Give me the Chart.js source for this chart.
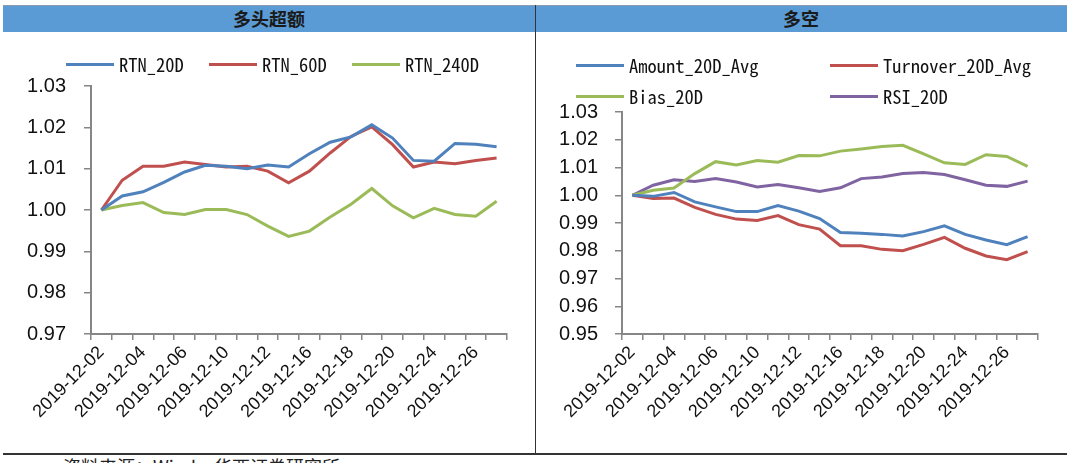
<!DOCTYPE html>
<html>
<head>
<meta charset="utf-8">
<script src="https://cdn.jsdelivr.net/npm/chart.js@4.4.1/dist/chart.umd.min.js"></script>
<style>
  html,body{margin:0;padding:0;background:#fff;overflow:hidden;width:1080px;height:463px}
  #page{position:relative;width:1080px;height:463px;overflow:hidden}
  .abs{position:absolute}
  .band{left:3px;top:5px;width:1064px;height:27px;background:#5b9bd5;border-top:1px solid #8c9bb0;box-sizing:border-box}
  .title{top:5px;height:27px;line-height:27px;text-align:center;font:bold 18px "Noto Sans CJK SC",sans-serif;color:#1a1a1a}
  .vsep{left:535px;top:5px;width:1px;height:449px;background:#333}
  .hline{left:3px;top:453px;width:1064px;height:2px;background:#333}
  .src{left:63px;top:457px;font:18px/18px "Noto Sans CJK SC",sans-serif;color:#222;white-space:nowrap}
  canvas{position:absolute}
  .lg{position:absolute;height:20px;white-space:pre;font:18.5px "Noto Sans Mono CJK SC","DejaVu Sans Mono",monospace;color:#111}
  .lg i{position:absolute;left:0;top:9px;width:48px;height:3px}
  .lg span{position:absolute;left:53px;top:-1px;line-height:22px}
</style>
</head>
<body>
<div id="page">
  <div class="abs band"></div>
  <div class="abs title" style="left:3px;width:532px">多头超额</div>
  <div class="abs title" style="left:535px;width:532px">多空</div>
  <canvas id="cLong" width="530" height="419" style="left:3px;top:33px;width:530px;height:419px"></canvas>
  <canvas id="cLS" width="530" height="419" style="left:537px;top:33px;width:530px;height:419px"></canvas>
  <div class="abs vsep"></div>
  <div class="abs hline"></div>
  <div class="abs src">资料来源：Wind，华西证券研究所</div>
</div>
<script>
// 交易日（2019年12月）
const dates = ['2019-12-02','2019-12-03','2019-12-04','2019-12-05','2019-12-06',
  '2019-12-09','2019-12-10','2019-12-11','2019-12-12','2019-12-13',
  '2019-12-16','2019-12-17','2019-12-18','2019-12-19','2019-12-20',
  '2019-12-23','2019-12-24','2019-12-25','2019-12-26','2019-12-27'];

// 多头超额
const rtn20  = [1.0000,1.0034,1.0044,1.0067,1.0092,1.0108,1.0106,1.0100,1.0109,1.0104,
                1.0136,1.0164,1.0177,1.0206,1.0174,1.0120,1.0118,1.0161,1.0159,1.0153];
const rtn60  = [1.0000,1.0072,1.0106,1.0106,1.0116,1.0110,1.0104,1.0106,1.0094,1.0066,
                1.0094,1.0138,1.0178,1.0201,1.0158,1.0104,1.0116,1.0112,1.0120,1.0126];
const rtn240 = [1.0000,1.0011,1.0018,0.9994,0.9989,1.0001,1.0001,0.9989,0.9961,0.9936,
                0.9949,0.9983,1.0014,1.0052,1.0010,0.9981,1.0004,0.9989,0.9985,1.0021];

// 多空
const amount20   = [1.0000,0.9996,1.0010,0.9976,0.9958,0.9941,0.9941,0.9963,0.9943,0.9916,
                    0.9866,0.9863,0.9859,0.9853,0.9869,0.9890,0.9859,0.9839,0.9822,0.9851];
const turnover20 = [1.0000,0.9988,0.9990,0.9956,0.9931,0.9914,0.9909,0.9927,0.9894,0.9878,
                    0.9818,0.9818,0.9805,0.9800,0.9823,0.9848,0.9809,0.9781,0.9768,0.9797];
const bias20     = [1.0000,1.0018,1.0026,1.0078,1.0121,1.0109,1.0125,1.0119,1.0143,1.0142,
                    1.0159,1.0167,1.0176,1.0180,1.0149,1.0117,1.0111,1.0146,1.0140,1.0104];
const rsi20      = [1.0000,1.0036,1.0056,1.0050,1.0060,1.0048,1.0030,1.0039,1.0027,1.0014,
                    1.0027,1.0060,1.0066,1.0078,1.0082,1.0075,1.0056,1.0036,1.0032,1.0051];

const longNames = ['RTN_20D','RTN_60D','RTN_240D'];
const lsNames   = ['Amount_20D_Avg','Turnover_20D_Avg','Bias_20D','RSI_20D'];
const longRange = [0.97, 1.03];
const lsRange   = [0.95, 1.03];

const BLUE='#4f81bd', RED='#c0504d', GREEN='#9bbb59', PURPLE='#8064a2';
const AXIS='#868686';

function ds(label, data, color){
  return {label, data, borderColor:color, backgroundColor:color, borderWidth:3,
          pointRadius:0, pointHoverRadius:0, tension:0, fill:false};
}

function makeChart(id, datasets, range, box){
  return new Chart(document.getElementById(id), {
    type:'line',
    data:{labels:dates, datasets},
    options:{
      responsive:false, animation:false,
      layout:{padding:{left:0, top:box.top, right:box.right, bottom:0}},
      plugins:{legend:{display:false}, tooltip:{enabled:false}},
      scales:{
        x:{
          offset:true,
          grid:{offset:true, drawOnChartArea:false, drawTicks:true, tickLength:6, color:AXIS, lineWidth:1.5},
          border:{display:true, color:AXIS, width:2},
          afterFit:(s)=>{ s.height = box.xh; },
          ticks:{
            autoSkip:false, minRotation:45, maxRotation:45, padding:2,
            color:'#111', font:{family:'"Liberation Sans", Arial, sans-serif', size:18},
            callback:function(v,i){ return i%2===0 ? this.getLabelForValue(v) : ''; }
          }
        },
        y:{
          min:range[0], max:range[1],
          grid:{drawOnChartArea:false, drawTicks:true, tickLength:7, color:AXIS, lineWidth:1.5},
          border:{display:true, color:AXIS, width:2},
          afterFit:(s)=>{ s.width = box.yw; },
          ticks:{
            stepSize:0.01, padding:box.ypad, color:'#111',
            font:{family:'"Liberation Sans", Arial, sans-serif', size:20},
            callback:(v)=>v.toFixed(2)
          }
        }
      }
    }
  });
}

const longChart = makeChart('cLong',
  [ds(longNames[0], rtn20, BLUE), ds(longNames[1], rtn60, RED), ds(longNames[2], rtn240, GREEN)],
  longRange, {top:53, right:26, xh:118, yw:88, ypad:18});

const lsChart = makeChart('cLS',
  [ds(lsNames[0], amount20, BLUE), ds(lsNames[1], turnover20, RED),
   ds(lsNames[2], bias20, GREEN), ds(lsNames[3], rsi20, PURPLE)],
  lsRange, {top:79, right:29, xh:118, yw:85, ypad:17});

// legends (HTML, built from chart datasets)
function legend(chart, slots){
  const page = document.getElementById('page');
  chart.data.datasets.forEach((d,i)=>{
    const el = document.createElement('div');
    el.className = 'lg';
    el.style.left = slots[i][0]+'px';
    el.style.top  = (slots[i][1]-10)+'px';
    el.innerHTML = `<i style="background:${d.borderColor}"></i><span>${d.label}</span>`;
    page.appendChild(el);
  });
}
legend(longChart, [[66,64],[209,64],[352,64]]);
legend(lsChart, [[576,65],[830,65],[576,96],[830,96]]);
</script>
</body>
</html>
